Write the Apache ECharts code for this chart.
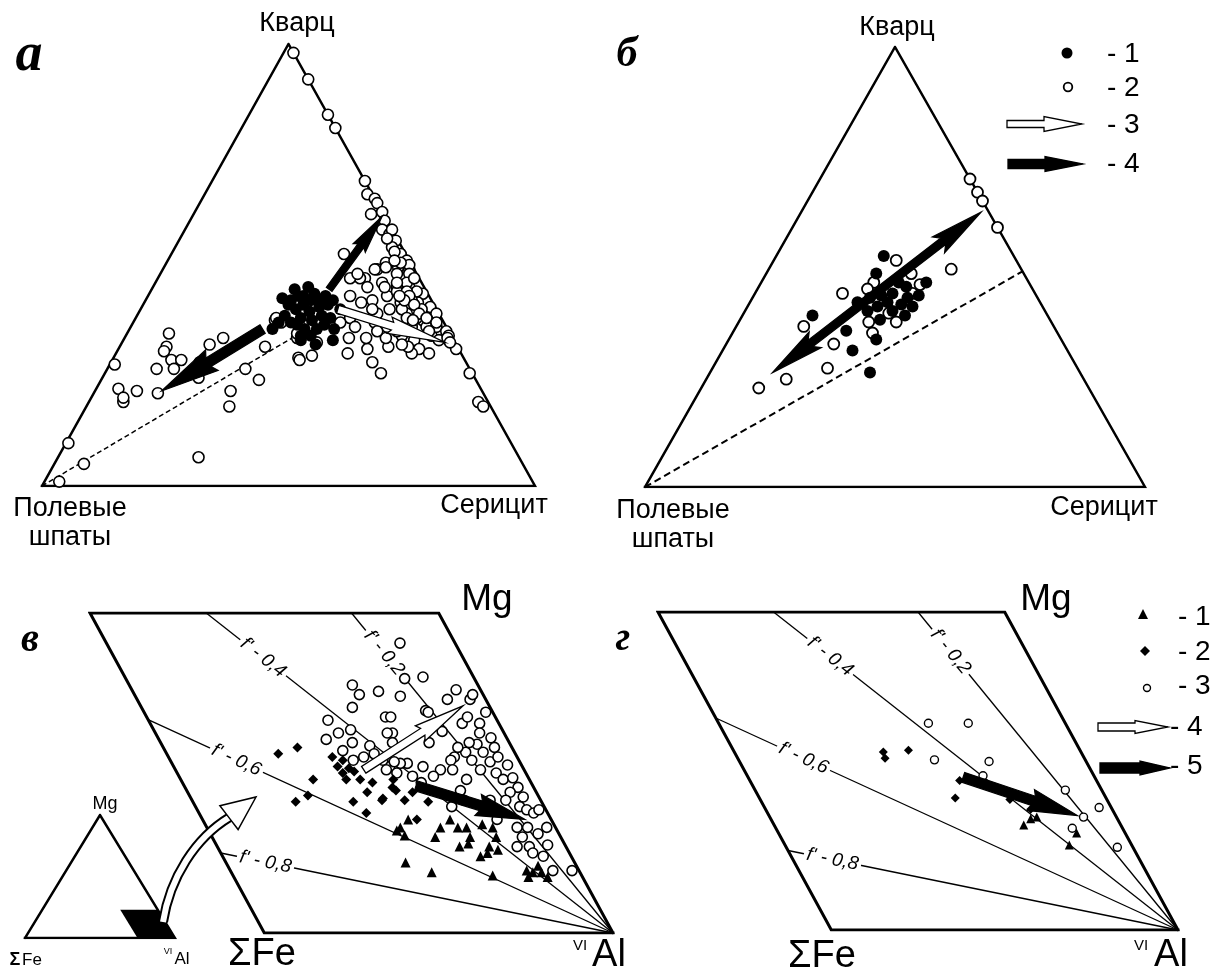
<!DOCTYPE html>
<html><head><meta charset="utf-8">
<script src="https://cdn.jsdelivr.net/npm/echarts@6/dist/echarts.min.js"></script>
<style>html,body{margin:0;padding:0;background:#fff}#c{width:1220px;height:974px}</style>
</head><body><div id="c"></div>
<script>
// ================= DATA =================
// Panel а / б : ternary compositions [Кварц %, Серицит %]; Полевые шпаты = 100 − Кварц − Серицит
const panelA_open = [
 [98,2],[92,8],[84,16],[81,19],[69,31],[66,33],[65,35],[64,36],[61.5,36],[62,38],[60,39.5],[58,40],[57,42],[58,42],[55.5,44],[54,44],[52.5,46.5],[51,48.5],[49.5,47.5],[49,50],[50.5,44.5],[49,43.5],[47,42],[52.5,35],[47,41],[50,49.5],
 [47,39],[48,40],[49,43],[49.5,45],[50.5,47.5],[48,50.5],[45,43.5],[46,46],[45,49.5],[45,52],[43.5,55.5],[43,41],[41.5,44],[42,46],[43,48.5],[41.5,52],[41.5,55.5],[40.5,58.5],[39,60.5],[39,48.5],[40,50.5],[39,54.5],[37.5,58.5],[38,43.5],
 [44,54],[42,54],[38,57],[36,60],[34,62],[40,57],[46,51],[47,52],[44,50],[40,53],
 [56,42],[53,45],[51,46],[48,48],[46,49],[44,52],[43,53],[42,52.5],[41,55],[39,57],[38,59],[36,62],[35,61],[33,64],[36,57],[38,55],[43,51],[45,47],[40,47],[37,49],[36,52],[34,56],[33,59],[31,61],[30,60],
 [24,32],[29,37.5],[29.5,40],[30,47],[28,53],[25.5,56],[30,63.5],[31.5,58.5],[32,57],[31,50.5],[31.5,54.5],[33.5,45.5],[33.5,49],[33.5,53],[32.5,39.5],[33.5,35],[37,30],[37.5,28.5],[37,42],[36,45.5],[35,50.5],[35,54.5],[37.5,56.5],[37,61.5],[35,64.5],[34,65.5],[31,68.5],[25.5,74],[19,79],[18,80.5],[33.5,65.5],[32.5,66.5],
 [34.5,8.5],[31.5,9.5],[30.5,9.5],[28.5,12],[28.5,14],[26.5,10],[26.5,13.5],[28,18],[24.5,19.5],[32,18],[33.5,20],[27.5,1],[22,4.5],[19,7],[20,6.5],[21.5,8.5],[21,13],[21.5,27.5],[18,29],[26.5,28],[31.5,29.5],[6.5,28.5],[38,28.5],[34.5,34.5],[28.5,38],[9.7,0.5],[1,3],[5,6]
];
const panelA_filled = [
 [35.5,29],[37,29.5],[38.5,30],[41,29.5],[42,29.5],[40,31.5],[43,30.5],[38,33.5],[41,32.5],[43,31.5],[39.5,34.5],[42,33.5],[37.5,36],[43.5,33.5],[40.5,36],[42,35.5],[38.5,37.5],[43,36],[41,37.5],[38,39.5],[42,38],[36.5,33.5],[35.5,35.5],[34,37.5],[35.5,38],[36.5,39],[33,36],[33,42.5],[35.5,41.5],[37,32],[42.5,27.5],[44.5,29],[45,31.5],[40,40.5],[32,39.5],[34,35.5]
];
const panelA_dash = [[0,0],[34.5,35]];
const panelA_trendQuartz = [[44.5,36],[61,38.5]];     // black arrow
const panelA_trendFeldspar = [[35.5,27],[21.5,13.5]]; // black arrow
const panelA_trendSericite = [[40,40],[32.5,65.5]];   // white arrow

const panelB_open = [
 [70,30],[67,33],[65,35],[59,41],[49.5,36.5],[51.5,24.5],[48.5,29],[46,32],[44,17.5],[46.5,22.5],[45,22],[36.5,13.5],[37.5,26],[35,28],[37.5,31.5],[32.5,21.5],[27,23],[24.5,16],[22.5,11.5],[39.5,29],[44,31.5]
];
const panelB_filled = [
 [52.5,21.5],[48.5,22],[42,21.5],[43,23.5],[43.5,25.5],[46.5,27.5],[44,27.5],[43,31],[43.5,33],[42,27.5],[41.5,30.5],[41,33],[41,26],[40,29.5],[39,14],[35.5,22.5],[33.5,29.5],[31,26],[26,32],[45.5,29.5],[40,24.5],[46.5,33],[39,32.5],[38,28]
];
const panelB_dash = [[0,0],[49,51]];
const panelB_trend = [[26,12.5],[62.5,36]]; // double black arrow

// Panels в / г : [ΣFe, Mg] in % of the diagram edges (VIAl corner at origin)
const panelV_open = [
 [15.8,90.6],[20,79.5],[14.5,80],[24,74],[31.5,67.5],[30,67.5],[32,62.5],[19,69.5],[18.5,69],[17.5,63],[23,59.5],[11,73],[7,76],[4.5,73],[3,74.5],[10.5,65.5],[8,67.5],[5.5,65.5],[2,69],[7,62.5],[4.5,61],[9.5,59],[14,56.5],[18,55],[9,56.5],[5,58],[13.5,54],[8.5,53.5],[5.5,55],[12.5,51],[8.5,50],[4,52.5],[7.5,48],[4.5,48.5],[4.5,45.5],[7.5,44],[4.5,42.5],[10,41.5],[7,39.5],[5.5,38.5],[4,37.5],[2,38.5],[11,33],[8,33],[6,31],[2.5,33],[11,30],[14,27],[10.5,27],[5,27.5],[8,24],[10.5,25],[7.5,19.5],[2,19.5],[11.5,59.5],[15.5,58],[19.5,54],[20.5,51],[24,51],[27,49],[28.5,52],[31.5,47],[33,49],[32.5,53],[34.5,53],[38,52],[21.5,44.5],[18,48],[22,41.5],[26.5,39.5],[14.5,41.5],[15.5,35.5],[36,77.5],[35.5,74.5],[29.5,75.5],[39.5,70.5],[48.5,66.5],[47.5,62.5],[52,60.5],[43.5,63.5],[33.5,62.5],[45,59.5],[49,57],[40.5,58.5],[40.5,56],[44,55],[47.5,54],[39,54],[36,53.5],[39.5,51],[37,50],[33.5,59.5]
];
const panelV_diamond = [
 [68,56],[61.5,58],[62,48],[66,43],[70.5,41],[53,55],[50.5,54],[53,52],[50,51.5],[49,50.5],[52.5,50],[48.5,48],[52.5,48],[48.5,44],[54,41],[45,42],[40,44.5],[52,37.5],[45.5,47],[39,48],[40.5,45.5],[45.5,41.5],[39,41.5],[32.5,41],[38.5,35.5],[35.5,44]
];
const panelV_triangle = [
 [41,35.5],[44.5,33],[44.5,30.5],[33,33],[29,35.5],[28,33],[25.5,33],[26,30],[30.5,27],[27.5,28],[36,30],[20.5,34],[18,33],[18.5,30],[22,27],[26,24],[23.5,25],[20,26],[48.5,22],[42.5,19],[25.5,18],[15,19.5],[13.5,19],[11,19],[10,17.5],[15.5,17.5],[11,21],[46,32]
];
const panelV_trendWhite = [[46,51],[7.5,71]];
const panelV_trendBlack = [[33.5,46],[7.5,35.5]];

const panelG_open = [[39.5,65],[28,65],[43.5,53.5],[28,53],[32,48.5],[10.5,44],[3.5,38.5],[9.5,35.5],[14.5,32],[4.5,26]];
const panelG_diamond = [[57,56],[57.5,54],[49.5,56.5],[43.5,41.5],[39.5,47],[28,41],[23.5,38]];
const panelG_triangle = [[28,33],[25,35],[23,35.5],[18,26.7],[14,30.5]];
const panelG_trendBlack = [[38,48],[11,36]];

const fPrimeLines = [0.2, 0.4, 0.6, 0.8];
// inset: zoomed region of the ΣFe–Mg–VIAl triangle, [ΣFe %, Mg %]
const insetRegion = [[0,0],[25,0],[25,23],[0,23]];

// ================= HELPERS =================
const tern = (q, s) => [s/100 + q/200, q/100];
const fm = (fe, mg) => [(fe + mg/2)/100, mg/100];
const insetT = (fe, mg) => [(100 - fe - mg/2)/100, mg/100];
const F_LABEL_T = {0.2:0.875, 0.4:0.86, 0.6:0.81, 0.8:0.886};

function arrowPoly(p1, p2, o) {
  const dx=p2[0]-p1[0], dy=p2[1]-p1[1], L=Math.hypot(dx,dy);
  const d=[dx/L,dy/L], n=[-d[1],d[0]];
  const P=(p,a,b)=>[p[0]+d[0]*a+n[0]*b, p[1]+d[1]*a+n[1]*b];
  const sw=o.shaft/2, hw=o.headW/2, hl=o.headL, bb=o.barb||0;
  if (o.double) {
    return [p1, P(p1,hl+bb,hw), P(p1,hl,sw), P(p2,-hl,sw), P(p2,-hl-bb,hw), p2,
            P(p2,-hl-bb,-hw), P(p2,-hl,-sw), P(p1,hl,-sw), P(p1,hl+bb,-hw)];
  }
  return [P(p1,0,sw), P(p2,-hl,sw), P(p2,-hl-bb,hw), p2, P(p2,-hl-bb,-hw), P(p2,-hl,-sw), P(p1,0,-sw)];
}
function arrowSeries(gi, seg, o) {
  return {type:'custom', xAxisIndex:gi, yAxisIndex:gi, clip:false, z:o.z||6, silent:true,
    data:[[seg[0][0],seg[0][1],seg[1][0],seg[1][1]]],
    renderItem:(params, api)=>{
      const p1=api.coord([api.value(0),api.value(1)]), p2=api.coord([api.value(2),api.value(3)]);
      return {type:'polygon', shape:{points:arrowPoly(p1,p2,o)},
              style:{fill:o.fill, stroke:'#000', lineWidth:o.lw||1.2, lineJoin:'miter'}};
    }};
}
function outline(gi, pts, w) {
  return {type:'line', xAxisIndex:gi, yAxisIndex:gi, data:pts, symbol:'none', silent:true, z:1,
    lineStyle:{color:'#000', width:w, join:'miter', cap:'square'}};
}
function dashLine(gi, pts, w, dash) {
  return {type:'line', xAxisIndex:gi, yAxisIndex:gi, data:pts, symbol:'none', silent:true, z:1,
    lineStyle:{color:'#000', width:w, type:dash}};
}
function scatter(gi, pts, symbol, size, filled, bw) {
  return {type:'scatter', xAxisIndex:gi, yAxisIndex:gi, data:pts, symbol:symbol, symbolSize:size, silent:true, z:3,
    itemStyle:{color: filled ? '#000' : '#fff', borderColor:'#000', borderWidth: filled ? 0 : bw, opacity:1}};
}
function fSeries(gi) {
  return {type:'custom', xAxisIndex:gi, yAxisIndex:gi, clip:false, z:2, silent:true,
    data: fPrimeLines.map(f=>[f,0]),
    renderItem:(params, api)=>{
      const f = api.value(0);
      const u = f<=0.5 ? 100*f/(1-f) : 100, v = f<=0.5 ? 100 : 100*(1-f)/f;
      const pA = api.coord(fm(0,0)), pB = api.coord(fm(u,v));
      const t = F_LABEL_T[f];
      const pL = [pA[0]+t*(pB[0]-pA[0]), pA[1]+t*(pB[1]-pA[1])];
      const ang = Math.atan2(pA[1]-pB[1], pA[0]-pB[0]);
      const txt = "f' - " + String(f).replace('.', ',');
      return {type:'group', children:[
        {type:'line', shape:{x1:pB[0],y1:pB[1],x2:pA[0],y2:pA[1]}, style:{stroke:'#000', lineWidth:1.3}},
        {type:'text', x:pL[0], y:pL[1], rotation:-ang,
         style:{text:txt, fontSize:19, fontStyle:'italic', fontFamily:'"Liberation Sans", Arial', fill:'#000',
                align:'center', verticalAlign:'middle', textAlign:'center', textVerticalAlign:'middle',
                backgroundColor:'#fff', padding:[0,3]}}
      ]};
    }};
}

// ================= OPTION =================
const isPar = i => (i===2 || i===3);
const series = [];
// Panel а
series.push(outline(0, [tern(0,0), tern(0,100), tern(100,0), tern(0,0)], 2.5));
series.push(dashLine(0, panelA_dash.map(p=>tern(p[0],p[1])), 1.5, [5,3]));
series.push(scatter(0, panelA_open.map(p=>tern(p[0],p[1])), 'circle', 11, false, 1.6));
series.push(scatter(0, panelA_filled.map(p=>tern(p[0],p[1])), 'circle', 12, true));
series.push(arrowSeries(0, panelA_trendSericite.map(p=>tern(p[0],p[1])), {shaft:8, headW:17, headL:55, barb:3, fill:'#fff', lw:1.3}));
series.push(arrowSeries(0, panelA_trendQuartz.map(p=>tern(p[0],p[1])), {shaft:7, headW:15, headL:36, barb:3, fill:'#000'}));
series.push(arrowSeries(0, panelA_trendFeldspar.map(p=>tern(p[0],p[1])), {shaft:10, headW:24, headL:55, barb:4, fill:'#000'}));
// Panel б
series.push(outline(1, [tern(0,0), tern(0,100), tern(100,0), tern(0,0)], 2.5));
series.push(dashLine(1, panelB_dash.map(p=>tern(p[0],p[1])), 2, [7,4]));
series.push(scatter(1, panelB_open.map(p=>tern(p[0],p[1])), 'circle', 11, false, 1.8));
series.push(scatter(1, panelB_filled.map(p=>tern(p[0],p[1])), 'circle', 12, true));
series.push(arrowSeries(1, panelB_trend.map(p=>tern(p[0],p[1])), {shaft:8, headW:20, headL:48, barb:6, double:true, fill:'#000'}));
// Panel в
series.push(outline(2, [fm(0,0), fm(100,0), fm(100,100), fm(0,100), fm(0,0)], 3));
series.push(fSeries(2));
series.push(scatter(2, panelV_open.map(p=>fm(p[0],p[1])), 'circle', 10, false, 1.6));
series.push(scatter(2, panelV_diamond.map(p=>fm(p[0],p[1])), 'diamond', 10, true));
series.push(scatter(2, panelV_triangle.map(p=>fm(p[0],p[1])), 'triangle', 10, true));
series.push(arrowSeries(2, panelV_trendWhite.map(p=>fm(p[0],p[1])), {shaft:8, headW:18, headL:48, barb:3, fill:'#fff', lw:1.3}));
series.push(arrowSeries(2, panelV_trendBlack.map(p=>fm(p[0],p[1])), {shaft:10, headW:22, headL:46, barb:3, fill:'#000'}));
// Panel г
series.push(outline(3, [fm(0,0), fm(100,0), fm(100,100), fm(0,100), fm(0,0)], 3));
series.push(fSeries(3));
series.push(scatter(3, panelG_open.map(p=>fm(p[0],p[1])), 'circle', 8, false, 1.4));
series.push(scatter(3, panelG_diamond.map(p=>fm(p[0],p[1])), 'diamond', 9, true));
series.push(scatter(3, panelG_triangle.map(p=>fm(p[0],p[1])), 'triangle', 9, true));
series.push(arrowSeries(3, panelG_trendBlack.map(p=>fm(p[0],p[1])), {shaft:10, headW:22, headL:46, barb:3, fill:'#000'}));
// Inset
series.push(outline(4, [insetT(100,0), insetT(0,0), insetT(0,100), insetT(100,0)], 2.5));
series.push({type:'custom', xAxisIndex:4, yAxisIndex:4, clip:false, z:2, silent:true, data:[[0,0]],
  renderItem:(p, api)=>({type:'polygon', shape:{points: insetRegion.map(r=>api.coord(insetT(r[0],r[1])))}, style:{fill:'#000'}})});

const FONT = '"Liberation Sans", Arial, sans-serif';
function T(text, x, y, size, opts) {
  opts = opts || {};
  return {type:'text', x:x, y:y, z:20, silent:true,
    style:{text:text, font:(opts.style||'') + ' ' + size + 'px ' + (opts.family||FONT), fill:'#000',
      align:opts.align||'center', verticalAlign:'middle', textAlign:opts.align||'center', textVerticalAlign:'middle'}};
}
function legendArrow(x1, x2, y, o) {
  return {type:'polygon', z:20, silent:true, shape:{points:arrowPoly([x1,y],[x2,y],o)},
          style:{fill:o.fill, stroke:'#000', lineWidth:1.3}};
}
const SERIF = '"Liberation Serif", "Times New Roman", serif';
const graphic = [
  // panel letters
  T('а', 29, 56, 54, {style:'italic bold', family:SERIF}),
  T('б', 627, 55, 42, {style:'italic bold', family:SERIF}),
  T('в', 30, 641, 40, {style:'italic bold', family:SERIF}),
  T('г', 623, 640, 40, {style:'italic bold', family:SERIF}),
  // triangle labels
  T('Кварц', 297, 24, 27), T('Кварц', 897, 28, 27),
  T('Полевые', 70, 509, 27), T('шпаты', 70, 538, 27),
  T('Серицит', 494, 506, 27),
  T('Полевые', 673, 511, 27), T('шпаты', 673, 540, 27),
  T('Серицит', 1104, 508, 27),
  // legend б
  {type:'circle', z:20, silent:true, shape:{cx:1067, cy:53, r:5.5}, style:{fill:'#000'}},
  {type:'circle', z:20, silent:true, shape:{cx:1068, cy:87, r:4.3}, style:{fill:'#fff', stroke:'#000', lineWidth:1.8}},
  legendArrow(1007, 1082, 124, {shaft:7, headW:15, headL:38, fill:'#fff'}),
  legendArrow(1008, 1083, 164, {shaft:9, headW:15, headL:38, fill:'#000'}),
  T('- 1', 1107, 54, 28, {align:'left'}), T('- 2', 1107, 88, 28, {align:'left'}),
  T('- 3', 1107, 125, 28, {align:'left'}), T('- 4', 1107, 164, 28, {align:'left'}),
  // parallelogram labels
  T('Mg', 487, 600, 37), T('Mg', 1046, 600, 37),
  T('ΣFe', 262, 955, 38), T('ΣFe', 822, 957, 38),
  T('VI', 580, 946, 15), T('Al', 609, 956, 38),
  T('VI', 1141, 946, 15), T('Al', 1171, 956, 38),
  // legend г
  {type:'polygon', z:20, silent:true, shape:{points:[[1143,609],[1148,619],[1138,619]]}, style:{fill:'#000'}},
  {type:'polygon', z:20, silent:true, shape:{points:[[1145,646],[1150,651],[1145,656],[1140,651]]}, style:{fill:'#000'}},
  {type:'circle', z:20, silent:true, shape:{cx:1147, cy:688, r:3.5}, style:{fill:'#fff', stroke:'#000', lineWidth:1.4}},
  legendArrow(1098, 1168, 727, {shaft:8, headW:13, headL:33, fill:'#fff'}),
  legendArrow(1100, 1170, 768, {shaft:10, headW:14, headL:30, fill:'#000'}),
  T('- 1', 1178, 617, 28, {align:'left'}), T('- 2', 1178, 652, 28, {align:'left'}),
  T('- 3', 1178, 686, 28, {align:'left'}), T('- 4', 1170, 727, 28, {align:'left'}),
  T('- 5', 1170, 766, 28, {align:'left'}),
  // inset labels
  T('Mg', 105, 804, 18),
  T('Σ', 15, 960, 18, {style:'bold'}), T('Fe', 32, 960, 17),
  T('VI', 168, 952, 9), T('Al', 182, 959, 17),
  // curved hollow arrow from inset to the enlarged diagram
  {type:'bezierCurve', z:19, silent:true, shape:{x1:163,y1:922,cpx1:170,cpy1:878,cpx2:195,cpy2:838,x2:230,y2:817},
   style:{stroke:'#000', lineWidth:10, fill:null}},
  {type:'bezierCurve', z:19, silent:true, shape:{x1:163,y1:922,cpx1:170,cpy1:878,cpx2:195,cpy2:838,x2:230,y2:817},
   style:{stroke:'#fff', lineWidth:6, fill:null}},
  {type:'polygon', z:20, silent:true, shape:{points:arrowPoly([222,823],[256,797],{shaft:5, headW:30, headL:34, fill:'#fff'}).slice(1,6)},
   style:{fill:'#fff', stroke:'#000', lineWidth:1.5}}
];

const chart = echarts.init(document.getElementById('c'), null, {renderer:'canvas'});
chart.setOption({
  animation:false,
  backgroundColor:'#fff',
  grid:[
    {left:42, top:44, width:493, height:442},
    {left:645, top:47, width:500, height:440},
    {left:90, top:613, width:523, height:320},
    {left:658, top:612, width:520, height:318},
    {left:25, top:815, width:150, height:123}
  ],
  xAxis:[0,1,2,3,4].map(i=>({gridIndex:i, type:'value', min:0, max:isPar(i)?1.5:1, inverse:isPar(i), show:false})),
  yAxis:[0,1,2,3,4].map(i=>({gridIndex:i, type:'value', min:0, max:1, show:false})),
  series:series,
  graphic:graphic
});
</script></body></html>
